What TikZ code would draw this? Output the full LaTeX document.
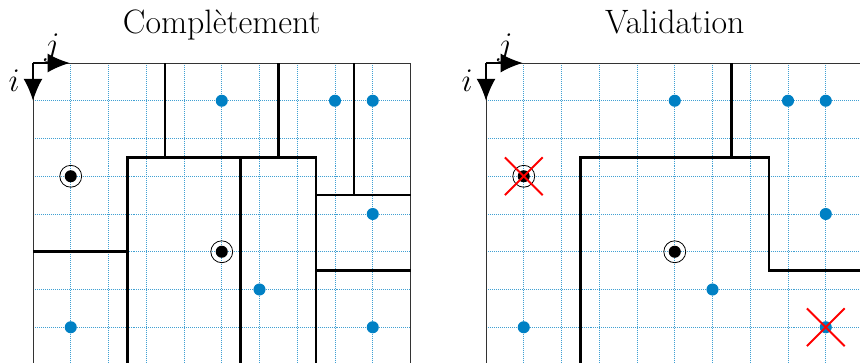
\documentclass[tikz,border=0pt]{standalone}
\usetikzlibrary{arrows.meta}
\definecolor{ptblue}{RGB}{0,128,196}

\begin{document}
\begin{tikzpicture}[
    y={(0,-1cm)},
    font=\fontsize{25.5}{30}\selectfont,
    gridline/.style={densely dotted, ptblue!75, line width=0.5pt},
    frame/.style={line width=0.5pt, black!80},
    cut/.style={line width=2pt},
    axis/.style={line width=1pt, -{Latex[length=5.8mm, width=5mm]}},
    pt/.style={fill=ptblue},
    cross/.style={red, line width=1.4pt}
]
    \clip (-0.874,-1.669) rectangle (21.907,7.921);

    % grids, frames, axes and points shared by both panels
    \foreach \dx/\nm in {0/L, 12/R} {
        \begin{scope}[xshift=\dx cm]
            \foreach \k in {0,...,10} \draw[gridline] (\k,0) -- (\k,8);
            \foreach \k in {0,...,8} \draw[gridline] (0,\k) -- (10,\k);
            \draw[frame] (0,8) -- (0,0) -- (10,0);
        \end{scope}
    }
    \draw[frame] (10,0) -- (10,8);

    % left panel
    \node[anchor=base] (tcomp) at (5,-0.77) {Compl\`etement};
    \draw[cut] (3.5,0) -- (3.5,2.5);
    \draw[cut] (6.5,0) -- (6.5,2.5);
    \draw[cut] (8.5,0) -- (8.5,3.5);
    \draw[cut] (2.5,8) -- (2.5,2.5) -- (7.5,2.5) -- (7.5,8);
    \draw[cut] (5.5,2.5) -- (5.5,8);
    \draw[cut] (7.5,3.5) -- (10,3.5);
    \draw[cut] (7.5,5.5) -- (10,5.5);
    \draw[cut] (0,5) -- (2.5,5);

    % right panel
    \node[anchor=base] (tvalid) at (17,-0.77) {Validation};
    \draw[cut] (18.5,0) -- (18.5,2.5);
    \draw[cut] (14.5,8) -- (14.5,2.5) -- (19.5,2.5) -- (19.5,5.5) -- (22,5.5);

    \foreach \dx/\nm in {0/L, 12/R} {
        \begin{scope}[xshift=\dx cm]
            \foreach \x/\y in {5/1, 8/1, 9/1, 9/4, 6/6, 1/7, 9/7}
                \fill[pt] (\x,\y) circle (0.16);
            \foreach \x/\y in {1/3, 5/5} {
                \draw[line width=0.6pt] (\x,\y) circle (0.29);
                \fill (\x,\y) circle (0.16);
            }
            \coordinate (o\nm) at (0,0);
            \coordinate (ej\nm) at (0.97,0);
            \coordinate (ei\nm) at (0,1);
            \draw[axis] (o\nm) -- (ej\nm);
            \draw[axis] (o\nm) -- (ei\nm);
            \node[anchor=south, inner sep=0.5pt] (j\nm) at (0.5,0) {$j$};
            \node (i\nm) at (-0.5,0.48) {$i$};
        \end{scope}
    }

    % rejected points
    \foreach \x/\y in {13/3, 21/7} {
        \draw[cross] (\x-0.5,\y-0.5) -- (\x+0.5,\y+0.5);
        \draw[cross] (\x-0.5,\y+0.5) -- (\x+0.5,\y-0.5);
    }
\end{tikzpicture}
\end{document}
